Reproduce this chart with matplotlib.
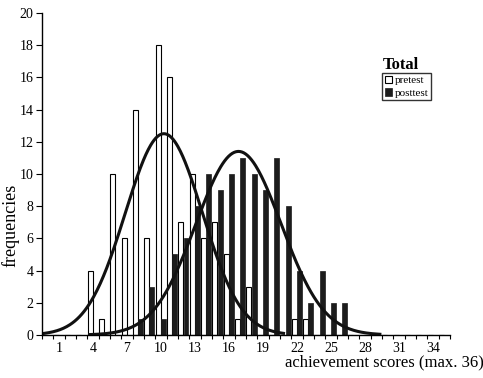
import matplotlib.pyplot as plt
import numpy as np

plt.rcParams['font.family'] = ['Liberation Serif', 'DejaVu Serif']

# score categories 0..35
scores = np.arange(0, 36)
pretest = np.zeros(36)
posttest = np.zeros(36)
pre_vals = {4: 4, 5: 1, 6: 10, 7: 6, 8: 14, 9: 6, 10: 18, 11: 16, 12: 7, 13: 10,
            14: 6, 15: 7, 16: 5, 17: 1, 18: 3, 22: 1, 23: 1}
post_vals = {8: 1, 9: 3, 10: 1, 11: 5, 12: 6, 13: 8, 14: 10, 15: 9, 16: 10, 17: 11,
             18: 10, 19: 9, 20: 11, 21: 8, 22: 4, 23: 2, 24: 4, 25: 2, 26: 2}
for k, v in pre_vals.items():
    pretest[k] = v
for k, v in post_vals.items():
    posttest[k] = v

tick_labels = ['1', '4', '7', '10', '13', '16', '19', '22', '25', '28', '31', '34']

# normal curves: peak height, centre, spread, drawn range
pre_peak, pre_mu, pre_sd, pre_span = 12.5, 10.25, 3.4, (-0.3, 20.8)
post_peak, post_mu, post_sd, post_span = 11.4, 16.83, 3.75, (3.7, 29.3)

fig = plt.figure(figsize=(4.83, 3.78), dpi=100)
ax = fig.add_axes([0.087, 0.1138, 0.845, 0.852])

b1 = ax.bar(scores - 0.26, pretest, width=0.44, color='white', edgecolor='black', linewidth=0.8)
b2 = ax.bar(scores + 0.2, posttest, width=0.44, color='#1c1c1c', edgecolor='#1c1c1c', linewidth=0.5)

for peak, mu, sd, span in [(pre_peak, pre_mu, pre_sd, pre_span),
                           (post_peak, post_mu, post_sd, post_span)]:
    xs = np.linspace(span[0], span[1], 300)
    ys = peak * np.exp(-0.5 * ((xs - mu) / sd) ** 2)
    ax.plot(xs, ys, color='#111111', linewidth=2.2)

ax.set_xlim(-0.5, 35.5)
ax.set_ylim(0, 20)
ax.set_yticks(np.arange(0, 21, 2))
ax.set_xticks(np.arange(1, 35, 3))
ax.set_xticklabels(tick_labels)
ax.set_xticks(np.arange(-0.5, 36, 1), minor=True)
ax.tick_params(axis='x', which='major', length=0, pad=5, labelsize=10)
ax.tick_params(axis='x', which='minor', length=3, width=0.8)
ax.tick_params(axis='y', length=4, width=0.8, labelsize=10, pad=2)
for s in ['top', 'right']:
    ax.spines[s].set_visible(False)
ax.spines['left'].set_linewidth(1)
ax.spines['bottom'].set_linewidth(1)

ax.set_ylabel('frequencies', fontsize=13)
ax.yaxis.set_label_coords(-0.056, 0.34)
ax.set_xlabel('achievement scores (max. 36)', fontsize=12, ha='right')
ax.xaxis.set_label_coords(1.083, -0.06)

ax.text(0.834, 0.825, 'Total', transform=ax.transAxes, fontsize=12, fontweight='bold')
ax.legend([b1, b2], ['pretest', 'posttest'], loc='upper left', bbox_to_anchor=(0.834, 0.812),
          fontsize=8, frameon=True, fancybox=False, edgecolor='black',
          handlelength=0.7, handleheight=0.7, handletextpad=0.2, borderpad=0.2,
          labelspacing=0.25, borderaxespad=0)

fig.savefig('out.png', dpi=100)
